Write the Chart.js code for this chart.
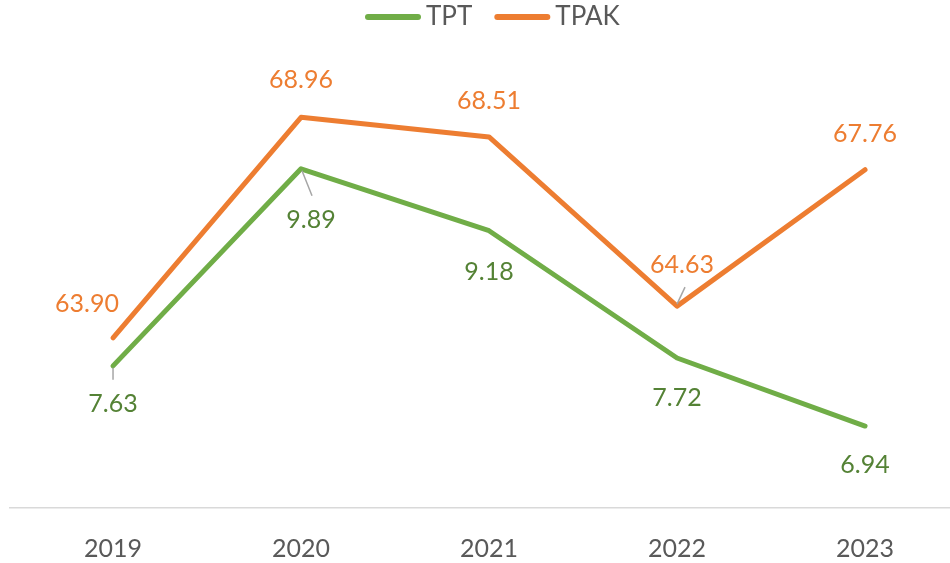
<!DOCTYPE html>
<html>
<head>
<meta charset="utf-8">
<script src="https://cdn.jsdelivr.net/npm/chart.js@4"></script>
<style>
  html, body { margin: 0; padding: 0; background: #fff; }
  #wrap { width: 950px; height: 563px; }
</style>
</head>
<body>
<div id="wrap"><canvas id="chart"></canvas></div>
<script>
// Data
const years = ['2019', '2020', '2021', '2022', '2023'];
const tptValues = [7.63, 9.89, 9.18, 7.72, 6.94];
const tpakValues = [63.90, 68.96, 68.51, 64.63, 67.76];

const GREEN = '#70AD47';
const ORANGE = '#ED7D31';
const GREEN_TEXT = '#548235';
const TEXT = '#595959';
const FONT = 'Lato, "Open Sans", sans-serif';

// label offsets [dx, dy] and optional leader line, per point
const tptLabels = [
    { dx: 0, dy: 38, leader: [0, 2, 0, 14] },
    { dx: 10, dy: 51, leader: [1, 2, 11, 27] },
    { dx: 0, dy: 41 },
    { dx: 0, dy: 40 },
    { dx: 0, dy: 39 }
];
const tpakLabels = [
    { dx: -26, dy: -34 },
    { dx: 0, dy: -37 },
    { dx: 0, dy: -36 },
    { dx: 5, dy: -41, leader: [0, -2, 8, -19] },
    { dx: 0, dy: -36 }
];

const toPoints = values => values.map((v, i) => ({ x: i, y: v }));

// Legend drawn by hand: line sample, small gap, then the label
const lineLegend = {
    id: 'lineLegend',
    afterDraw(chart) {
        const ctx = chart.ctx;
        ctx.save();
        ctx.font = '26px ' + FONT;
        ctx.textBaseline = 'middle';
        let x = 365;
        const y = 17;
        chart.data.datasets.forEach(ds => {
            ctx.strokeStyle = ds.borderColor;
            ctx.lineWidth = 6;
            ctx.lineCap = 'round';
            ctx.beginPath();
            ctx.moveTo(x + 3, y);
            ctx.lineTo(x + 53, y);
            ctx.stroke();
            x += 61;
            ctx.fillStyle = TEXT;
            ctx.fillText(ds.label, x, y);
            x += ctx.measureText(ds.label).width + 22;
        });
        ctx.restore();
    }
};

const valueLabels = {
    id: 'valueLabels',
    afterDatasetsDraw(chart) {
        const ctx = chart.ctx;
        const sets = [
            { meta: chart.getDatasetMeta(0), values: tptValues, style: tptLabels, color: GREEN_TEXT },
            { meta: chart.getDatasetMeta(1), values: tpakValues, style: tpakLabels, color: ORANGE }
        ];
        ctx.save();
        ctx.font = '25px ' + FONT;
        ctx.textAlign = 'center';
        ctx.textBaseline = 'middle';
        sets.forEach(s => {
            s.meta.data.forEach((pt, i) => {
                const st = s.style[i];
                if (st.leader) {
                    const l = st.leader;
                    ctx.strokeStyle = '#A6A6A6';
                    ctx.lineWidth = 1.5;
                    ctx.beginPath();
                    ctx.moveTo(pt.x + l[0], pt.y + l[1]);
                    ctx.lineTo(pt.x + l[2], pt.y + l[3]);
                    ctx.stroke();
                }
                ctx.fillStyle = s.color;
                ctx.fillText(s.values[i].toFixed(2), pt.x + st.dx, pt.y + st.dy);
            });
        });
        ctx.restore();
    }
};

new Chart(document.getElementById('chart'), {
    type: 'line',
    data: {
        datasets: [
            {
                label: 'TPT',
                data: toPoints(tptValues),
                borderColor: GREEN,
                backgroundColor: GREEN,
                borderWidth: 5,
                borderCapStyle: 'round',
                borderJoinStyle: 'round',
                pointRadius: 0,
                tension: 0,
                yAxisID: 'y'
            },
            {
                label: 'TPAK',
                data: toPoints(tpakValues),
                borderColor: ORANGE,
                backgroundColor: ORANGE,
                borderWidth: 5,
                borderCapStyle: 'round',
                borderJoinStyle: 'round',
                pointRadius: 0,
                tension: 0,
                yAxisID: 'y1'
            }
        ]
    },
    options: {
        responsive: true,
        maintainAspectRatio: false,
        animation: false,
        layout: { padding: { left: 10, right: 0, top: 72, bottom: 0 } },
        plugins: {
            legend: { display: false },
            tooltip: { enabled: false }
        },
        scales: {
            x: {
                type: 'linear',
                min: -0.548,
                max: 4.452,
                afterBuildTicks: axis => {
                    axis.ticks = years.map((_, i) => ({ value: i }));
                },
                afterFit: axis => {
                    axis.height = 55;
                },
                ticks: {
                    color: TEXT,
                    font: { family: FONT, size: 25 },
                    padding: 26,
                    callback: v => years[v]
                },
                grid: { display: false, drawTicks: false },
                border: { color: '#D9D9D9', width: 1.5 }
            },
            y: { display: false, min: 6, max: 11 },
            y1: { display: false, min: 60, max: 70 }
        }
    },
    plugins: [lineLegend, valueLabels]
});
</script>
</body>
</html>
